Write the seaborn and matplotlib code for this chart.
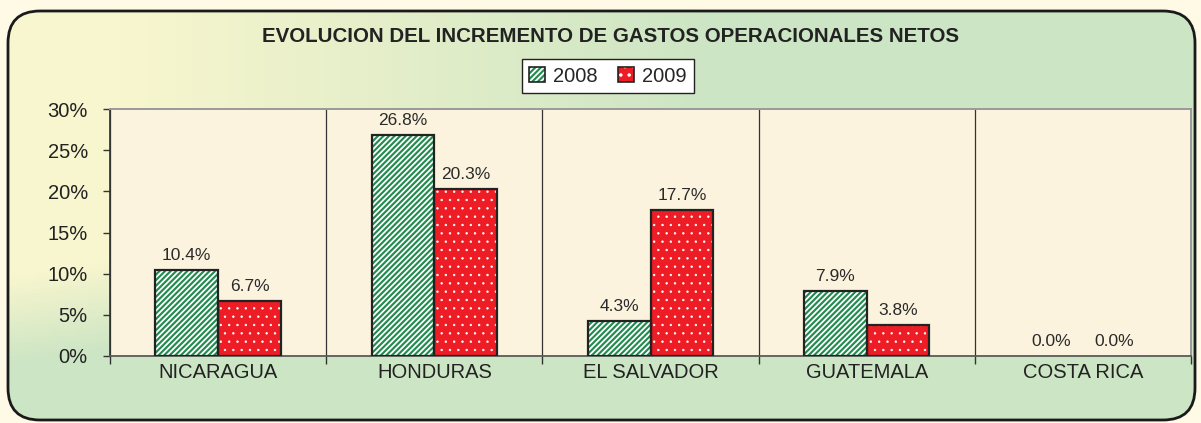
import numpy as np
import pandas as pd
import matplotlib.pyplot as plt
import seaborn as sns
from matplotlib.colors import to_rgb
from matplotlib.patches import FancyBboxPatch, Patch, Rectangle
from matplotlib.ticker import FixedLocator, PercentFormatter

# ── Data ─────────────────────────────────────────────────────
countries = ['NICARAGUA', 'HONDURAS', 'EL SALVADOR', 'GUATEMALA', 'COSTA RICA']
years     = ['2008', '2009']
inc_2008  = [10.4, 26.8, 4.3, 7.9, 0.0]
inc_2009  = [6.7, 20.3, 17.7, 3.8, 0.0]
y_ticks   = [0, 5, 10, 15, 20, 25, 30]
title     = 'EVOLUCION DEL INCREMENTO DE GASTOS OPERACIONALES NETOS'

# ── Style ────────────────────────────────────────────────────
PALETTE = {
    'outside' : '#FEFAE6',
    'grad_a'  : '#F8F6CE',   # pale yellow, left
    'grad_b'  : '#CCE5C4',   # pale green, right / bottom
    'panel'   : '#FBF3DE',
    'green'   : '#218A4E',
    'red'     : '#EE1C25',
    'edge'    : '#222222',
    'text'    : '#222222',
}
HATCHES  = ['//////', '..']
HATCH_LW = [1.3, 0.5]

df = pd.DataFrame({
    'pais' : countries * 2,
    'anio' : [years[0]] * len(countries) + [years[1]] * len(countries),
    'valor': inc_2008 + inc_2009,
})

sns.set_theme(style='white')
plt.rcParams['font.family'] = ['Liberation Sans', 'DejaVu Sans']
plt.rcParams['hatch.linewidth'] = 1.3

fig = plt.figure(figsize=(12.01, 4.23), dpi=100)
fig.patch.set_facecolor(PALETTE['outside'])

# ── Rounded gradient frame (pixel coords) ────────────────────
bg = fig.add_axes([0, 0, 1, 1], zorder=0)
bg.set_xlim(0, 1201)
bg.set_ylim(423, 0)
bg.axis('off')
xx, yy = np.meshgrid(np.linspace(0, 1201, 300), np.linspace(0, 423, 120))
t = np.clip((xx - 120) / 600 + np.clip(yy - 260, 0, None) / 90, 0, 1)[..., None]
c0, c1 = np.array(to_rgb(PALETTE['grad_a'])), np.array(to_rgb(PALETTE['grad_b']))
im = bg.imshow(c0 + (c1 - c0) * t, extent=(0, 1201, 423, 0), aspect='auto')
frame = FancyBboxPatch((8, 11), 1187, 409, boxstyle='round,pad=0,rounding_size=32',
                       fc='none', ec='#1a1a1a', lw=2)
bg.add_patch(frame)
im.set_clip_path(frame)


def set_hatch_lw(patch, lw):
    # per-patch hatch width where matplotlib supports it
    if hasattr(patch, 'set_hatch_linewidth'):
        patch.set_hatch_linewidth(lw)


# ── Bars ─────────────────────────────────────────────────────
ax = fig.add_axes([0.0916, 0.1584, 0.9001, 0.5839], zorder=1)
ax.set_facecolor(PALETTE['panel'])

sns.barplot(data=df, x='pais', y='valor', hue='anio',
            palette=[PALETTE['green'], PALETTE['red']], saturation=1,
            width=0.58, gap=0, errorbar=None, legend=False, ax=ax)

series = [inc_2008, inc_2009]
for cont, hatch, hlw, vals in zip(ax.containers, HATCHES, HATCH_LW, series):
    for bar in cont:
        bar.set_hatch(hatch)
        bar.set_edgecolor('white')
        bar.set_linewidth(0)
        set_hatch_lw(bar, hlw)
        if bar.get_height() > 0:
            ax.add_patch(Rectangle(bar.get_xy(), bar.get_width(), bar.get_height(),
                                   fill=False, ec=PALETTE['edge'], lw=1.6, zorder=3))
    ax.bar_label(cont, labels=[f'{v:.1f}%' for v in vals], padding=5,
                 fontsize=12.5, color='#2a2a2a')

# ── Axes ─────────────────────────────────────────────────────
ax.set_xlim(-0.5, len(countries) - 0.5)
ax.set_ylim(y_ticks[0], y_ticks[-1])
ax.set_yticks(y_ticks)
ax.yaxis.set_major_formatter(PercentFormatter(decimals=0))
ax.set_xlabel('')
ax.set_ylabel('')

ax.xaxis.set_minor_locator(FixedLocator(np.arange(len(countries) + 1) - 0.5))
ax.grid(axis='x', which='minor', color='#333333', lw=0.9)
ax.grid(axis='y', visible=False)
ax.set_axisbelow(True)

ax.tick_params(axis='x', which='major', length=0, pad=5, labelsize=14.5,
               labelcolor=PALETTE['text'])
ax.tick_params(axis='x', which='minor', length=6, width=1, direction='out',
               color='#333333', bottom=True)
ax.tick_params(axis='y', length=5, width=1, direction='out', left=True,
               pad=11, labelsize=14.5, labelcolor=PALETTE['text'], color='#333333')

ax.spines['left'].set_color('#333333')
ax.spines['bottom'].set_color('#555555')
for side in ['top', 'right']:
    ax.spines[side].set_color('#999999')
    ax.spines[side].set_linewidth(1.4)

# ── Title & legend ───────────────────────────────────────────
fig.text(610 / 1201, 1 - 37 / 423, title, ha='center', va='center',
         fontsize=14.8, fontweight='bold', color=PALETTE['text'])

handles = []
for c, h, hlw in zip(['green', 'red'], HATCHES, HATCH_LW):
    fill = Patch(facecolor=PALETTE[c], edgecolor='white', hatch=h, lw=0)
    set_hatch_lw(fill, hlw)
    handles.append((fill, Patch(fill=False, edgecolor=PALETTE['edge'], lw=1.2)))

fig.legend(handles, years, loc='center', bbox_to_anchor=(608 / 1201, 1 - 76 / 423),
           ncol=2, frameon=True, fancybox=False, edgecolor=PALETTE['edge'],
           facecolor='white', framealpha=1, fontsize=14.5, handlelength=0.8,
           handleheight=0.8, columnspacing=1.0, handletextpad=0.4, borderpad=0.35)

fig.savefig('out.png', dpi=100, facecolor=fig.get_facecolor())
